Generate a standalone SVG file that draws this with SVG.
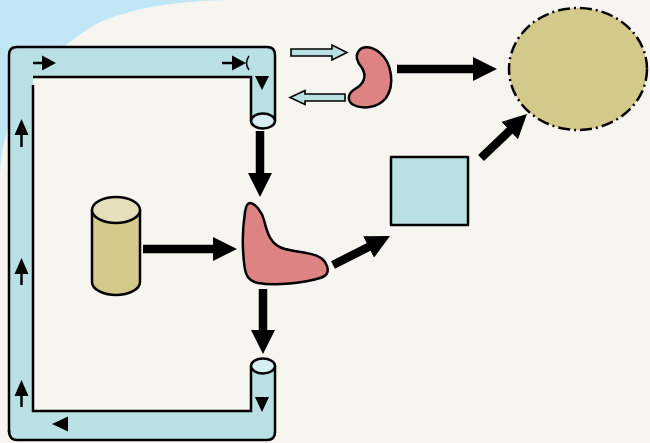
<svg xmlns="http://www.w3.org/2000/svg" width="650" height="443" viewBox="0 0 650 443">
  <defs>
    <style>
      .ink { stroke: #000; stroke-width: 2.5; stroke-linejoin: round; }
      .line { fill: none; stroke: #000; stroke-width: 2.5; }
      .pipe { fill: #b9e0e3; }
      .pipe-end { fill: #d6eef1; stroke: #000; stroke-width: 2.5; }
      .red { fill: #de8383; }
      .tan { fill: #d3c98b; }
      .tan-top { fill: #e6dfbb; }
      .flow { fill: #000; }
      .stem { stroke: #000; stroke-width: 2.5; }
      .bold { fill: none; stroke: #000; stroke-width: 8.5; }
      .hollow { fill: #b9e0e3; stroke: #000; stroke-width: 1.6; stroke-linejoin: miter; }
    </style>
    <marker id="head" markerUnits="userSpaceOnUse" markerWidth="24" markerHeight="24"
            refX="2" refY="12" orient="auto">
      <path d="M0,0 L24,12 L0,24 Z" fill="#000"/>
    </marker>
  </defs>

  <!-- backdrop -->
  <rect width="650" height="443" fill="#c1e6f6"/>
  <path d="M0,175 C2,110 40,55 100,22 C140,5 190,0 240,0 H650 V443 H0 Z" fill="#f7f5f0"/>

  <!-- circulation loop -->
  <g id="loop">
    <path class="pipe" d="M17,47 H267 Q275,47 275,55 V121 H251 V77 H33 V411 H251 V366 H275 V432 Q275,440 267,440 H17 Q9,440 9,432 V55 Q9,47 17,47 Z"/>
    <path class="line" d="M9,432 V55 Q9,47 17,47 H267 Q275,47 275,55 V121"/>
    <path class="line" d="M251,121 V77 H33"/>
    <path class="line" d="M33,85 V411 H251 V366"/>
    <path class="line" d="M9,430 Q9,440 17,440 H267 Q275,440 275,432 V366"/>
    <path d="M249,56 Q244,63 249,70" fill="none" stroke="#000" stroke-width="1.5"/>
    <ellipse class="pipe-end" cx="263" cy="121" rx="12" ry="7.5"/>
    <ellipse class="pipe-end" cx="263" cy="366" rx="12" ry="7.5"/>
    <!-- flow direction marks -->
    <line class="stem" x1="33" y1="63" x2="44" y2="63"/>
    <polygon class="flow" points="42,55.5 56,63 42,70.5"/>
    <line class="stem" x1="222" y1="63" x2="234" y2="63"/>
    <polygon class="flow" points="232,55.5 246,63 232,70.5"/>
    <polygon class="flow" points="255,76 269,76 262,90"/>
    <line class="stem" x1="21.5" y1="133" x2="21.5" y2="147"/>
    <polygon class="flow" points="14.5,135 21.5,119 28.5,135"/>
    <line class="stem" x1="21.5" y1="272" x2="21.5" y2="285"/>
    <polygon class="flow" points="14.5,274 21.5,258 28.5,274"/>
    <line class="stem" x1="21.5" y1="394" x2="21.5" y2="407"/>
    <polygon class="flow" points="14.5,396 21.5,380 28.5,396"/>
    <polygon class="flow" points="52,424 68,416.5 68,431.5"/>
    <polygon class="flow" points="255,397 269,397 262,412"/>
  </g>

  <!-- small kidney shape -->
  <g id="kidney">
    <path class="red ink" d="M358,52 C362,45 372,46 380,53 C392,63 395,85 386,98 C378,108 362,110 352,104 C347,100 348,93 355,89 C364,84 367,76 362,68 C357,62 355,57 358,52 Z"/>
  </g>

  <!-- large red shape -->
  <g id="blob">
    <path class="red ink" d="M250,203 C255,203 262,212 264,220 C267,232 270,245 285,249 C300,253 318,252 325,262 C330,270 328,276 320,278 C305,283 275,286 258,283 C248,281 245,275 244,262 C242,245 243,225 245,212 C246,205 248,203 250,203 Z"/>
  </g>

  <!-- tan cylinder -->
  <g id="cylinder">
    <path class="tan ink" d="M92,210 V282 A24,13 0 0 0 140,282 V210 Z"/>
    <ellipse class="tan-top ink" cx="116" cy="210" rx="24" ry="13"/>
  </g>

  <!-- square -->
  <g id="square">
    <rect class="pipe ink" x="391" y="157" width="77" height="68"/>
  </g>

  <!-- ellipse -->
  <g id="ellipse">
    <ellipse class="tan" cx="578" cy="69" rx="69" ry="61" stroke="#000" stroke-width="2.5" stroke-dasharray="12 4 2 4"/>
  </g>

  <!-- connectors -->
  <g id="connectors">
    <line class="bold" x1="260" y1="131" x2="260" y2="175" marker-end="url(#head)"/>
    <line class="bold" x1="263" y1="289" x2="263" y2="332" marker-end="url(#head)"/>
    <line class="bold" x1="143" y1="249" x2="215" y2="249" marker-end="url(#head)"/>
    <line class="bold" x1="333" y1="265" x2="370.4" y2="246" marker-end="url(#head)"/>
    <line class="bold" x1="481" y1="158" x2="511.1" y2="129.2" marker-end="url(#head)"/>
    <line class="bold" x1="397" y1="69" x2="475" y2="69" marker-end="url(#head)"/>
    <polygon class="hollow" points="291,49 332,49 332,45 347,52.5 332,60 332,56 291,56"/>
    <polygon class="hollow" points="345,94 305,94 305,90.5 290,97.5 305,104.5 305,101 345,101"/>
  </g>
</svg>
